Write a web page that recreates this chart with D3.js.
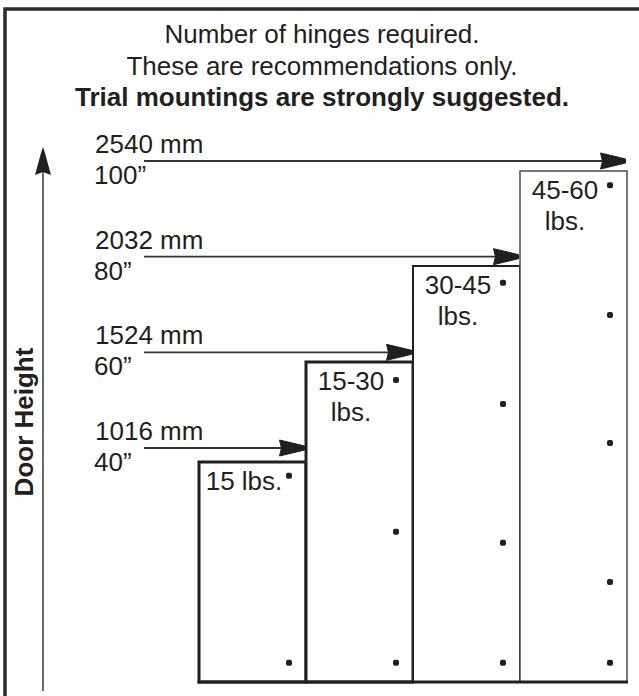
<!DOCTYPE html>
<html>
<head>
<meta charset="utf-8">
<script src="https://cdn.jsdelivr.net/npm/d3@7/dist/d3.min.js"></script>
<style>
    body { margin: 0; background: #fff; }
    svg text { font-family: "Liberation Sans", Arial, Helvetica, sans-serif; fill: #231f20; }
</style>
</head>
<body>
<svg id="chart" width="639" height="696"></svg>
<script>

const titleLines = ["Number of hinges required.", "These are recommendations only.", "Trial mountings are strongly suggested."];
const heightsInch = [40, 60, 80, 100];
const heightsMm = [1016, 1524, 2032, 2540];
const weightLabels = [["15 lbs."], ["15-30", "lbs."], ["30-45", "lbs."], ["45-60", "lbs."]];
// hinge positions, inches up from the floor
const hingePositions = [
    [37.5, 3.5],
    [56.4, 27.3, 3.5],
    [76.5, 51.6, 25.3, 3.5],
    [97.0, 69.8, 43.8, 18.2, 3.5]
];
const doorStrokes = [3, 3, 2, 1.5];

const svg = d3.select("#chart");
const ink = "#231f20";

// the drawing is schematic, door heights are not to scale
const yDoor = d3.scaleLinear().domain([0, 40, 60, 80, 100]).range([682, 462, 362, 266, 171]);
const yArrow = d3.scaleLinear().domain([40, 100]).range([448, 161]);
const x = d3.scaleBand().domain(d3.range(heightsInch.length)).range([199, 627]).padding(0);

// frame (left and top edge only, the rest is cropped)
svg.append("path")
    .attr("d", "M5,696 L5,9 L639,9")
    .attr("fill", "none")
    .attr("stroke", "#2b2b2b")
    .attr("stroke-width", 3.5);

svg.selectAll(".title")
    .data(titleLines)
    .enter().append("text")
    .attr("class", "title")
    .attr("x", 322)
    .attr("y", (d, i) => 43 + i * 31.5)
    .attr("text-anchor", "middle")
    .attr("font-size", 26)
    .attr("font-weight", (d, i) => i === 2 ? "bold" : "normal")
    .text(d => d);

// vertical axis
svg.append("line")
    .attr("x1", 43).attr("x2", 43)
    .attr("y1", 160).attr("y2", 691)
    .attr("stroke", "#444")
    .attr("stroke-width", 1.6);

svg.append("path")
    .attr("transform", "translate(43,147)")
    .attr("d", "M0,0 L2,6 L8,28 L0,25 L-8,28 L-2,6 Z")
    .attr("fill", ink);

svg.append("text")
    .attr("transform", "translate(33,422) rotate(-90)")
    .attr("text-anchor", "middle")
    .attr("font-size", 26)
    .attr("font-weight", "bold")
    .text("Door Height");

// doors
const doors = svg.selectAll(".door")
    .data(heightsInch)
    .enter().append("g")
    .attr("class", "door");

doors.append("rect")
    .attr("x", (d, i) => x(i))
    .attr("y", d => yDoor(d))
    .attr("width", x.bandwidth())
    .attr("height", d => yDoor(0) - yDoor(d))
    .attr("fill", "#fff")
    .attr("stroke", (d, i) => i < 3 ? ink : "#4a4a4a")
    .attr("stroke-width", (d, i) => doorStrokes[i]);

svg.append("line")
    .attr("x1", x(0) - 1.5).attr("x2", x(3) + x.bandwidth() + 1)
    .attr("y1", yDoor(0)).attr("y2", yDoor(0))
    .attr("stroke", ink)
    .attr("stroke-width", 3);

doors.each(function(h, i) {
    const g = d3.select(this);

    g.selectAll(".label-line")
        .data(weightLabels[i])
        .enter().append("text")
        .attr("class", "label-line")
        .attr("x", x(i) + 45)
        .attr("y", (d, j) => yDoor(h) + 28 + j * 31)
        .attr("text-anchor", "middle")
        .attr("font-size", 26)
        .text(d => d);

    g.selectAll(".hinge")
        .data(hingePositions[i])
        .enter().append("rect")
        .attr("class", "hinge")
        .attr("x", x(i) + x.bandwidth() - 20)
        .attr("y", d => yDoor(d) - 3)
        .attr("width", 6)
        .attr("height", 6)
        .attr("rx", 2)
        .attr("fill", ink);
});

// height arrows
const arrows = svg.selectAll(".arrow")
    .data(heightsInch)
    .enter().append("g")
    .attr("class", "arrow");

arrows.append("line")
    .attr("x1", 144)
    .attr("x2", (d, i) => x(i) + x.bandwidth() - 4)
    .attr("y1", d => yArrow(d))
    .attr("y2", d => yArrow(d))
    .attr("stroke", "#333")
    .attr("stroke-width", 1.8);

arrows.append("path")
    .attr("transform", (d, i) => `translate(${x(i) + x.bandwidth() - 1.5},${yArrow(d)})`)
    .attr("d", "M0,-2 L-6,-3.5 L-25,-8 L-23,0 L-25,8 L-6,3.5 L0,2 Z")
    .attr("fill", ink)
    .attr("stroke", ink)
    .attr("stroke-width", 1)
    .attr("stroke-linejoin", "round");

arrows.append("text")
    .attr("x", 95)
    .attr("y", d => yArrow(d) - 8)
    .attr("font-size", 26)
    .text((d, i) => heightsMm[i] + " mm");

arrows.append("text")
    .attr("x", 94)
    .attr("y", d => yArrow(d) + 23)
    .attr("font-size", 26)
    .text(d => d + "\u201D");

</script>
</body>
</html>
